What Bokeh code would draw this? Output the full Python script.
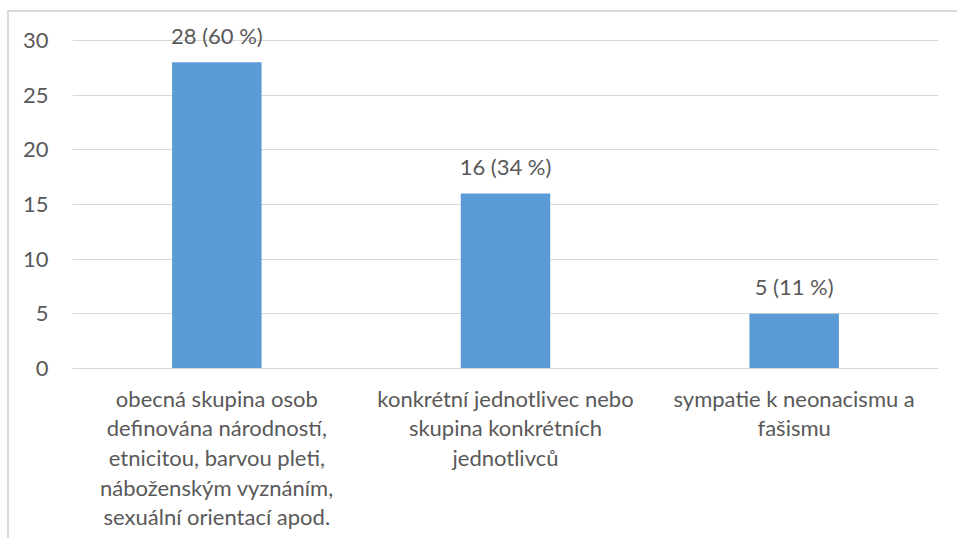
from bokeh.plotting import figure
from bokeh.models import ColumnDataSource, FixedTicker, Range1d
from bokeh.core.properties import value
from bokeh.embed import file_html
from bokeh.resources import INLINE

categories = [
    "obecná skupina osob\ndefinována národností,\netnicitou, barvou pleti,\nnáboženským vyznáním,\nsexuální orientací apod.",
    "konkrétní jednotlivec nebo\nskupina konkrétních\njednotlivců",
    "sympatie k neonacismu a\nfašismu",
]
counts = [28, 16, 5]
percents = [60, 34, 11]
y_ticks = [0, 5, 10, 15, 20, 25, 30]

labels = [f"{c} ({p} %)" for c, p in zip(counts, percents)]
src = ColumnDataSource(dict(cat=categories, val=counts, lab=labels))

FONT = "Lato"
TXT = "#595959"
SIZE = "22px"

p = figure(
    x_range=categories,
    y_range=Range1d(0, 32.47),
    width=957,
    height=538,
    output_backend="svg",
    toolbar_location=None,
    min_border_left=72,
    min_border_right=19,
    min_border_top=13,
    min_border_bottom=170,
)
p.border_fill_alpha = 0
p.outline_line_color = None
p.styles = {
    "background-image": "linear-gradient(#d9d9d9, #d9d9d9), linear-gradient(#d9d9d9, #d9d9d9)",
    "background-size": "100% 2px, 2px 100%",
    "background-position": "7px 10px, 7px 10px",
    "background-repeat": "no-repeat",
}

p.vbar(x="cat", top="val", width=0.31, source=src, color="#5B9BD5", line_color=None)
p.text(x="cat", y="val", text="lab", source=src, text_align="center",
       text_baseline="middle", y_offset=-27, text_font=value(FONT),
       text_font_size=SIZE, text_color=TXT)

p.xgrid.grid_line_color = None
p.ygrid.grid_line_color = "#d9d9d9"
p.ygrid.grid_line_width = 1
p.yaxis.ticker = FixedTicker(ticks=y_ticks)

p.yaxis.axis_line_color = None
p.yaxis.major_tick_line_color = None
p.yaxis.minor_tick_line_color = None
p.yaxis.major_label_standoff = 18
p.yaxis.major_label_text_font = FONT
p.yaxis.major_label_text_font_size = SIZE
p.yaxis.major_label_text_color = TXT

p.xaxis.axis_line_color = "#d9d9d9"
p.xaxis.major_tick_line_color = None
p.xaxis.minor_tick_line_color = None
p.xaxis.major_label_standoff = 10
p.xaxis.major_label_text_font = FONT
p.xaxis.major_label_text_font_size = SIZE
p.xaxis.major_label_text_color = TXT
p.xaxis.major_label_text_line_height = 1.1

open("out.html", "w").write(file_html(p, INLINE))
